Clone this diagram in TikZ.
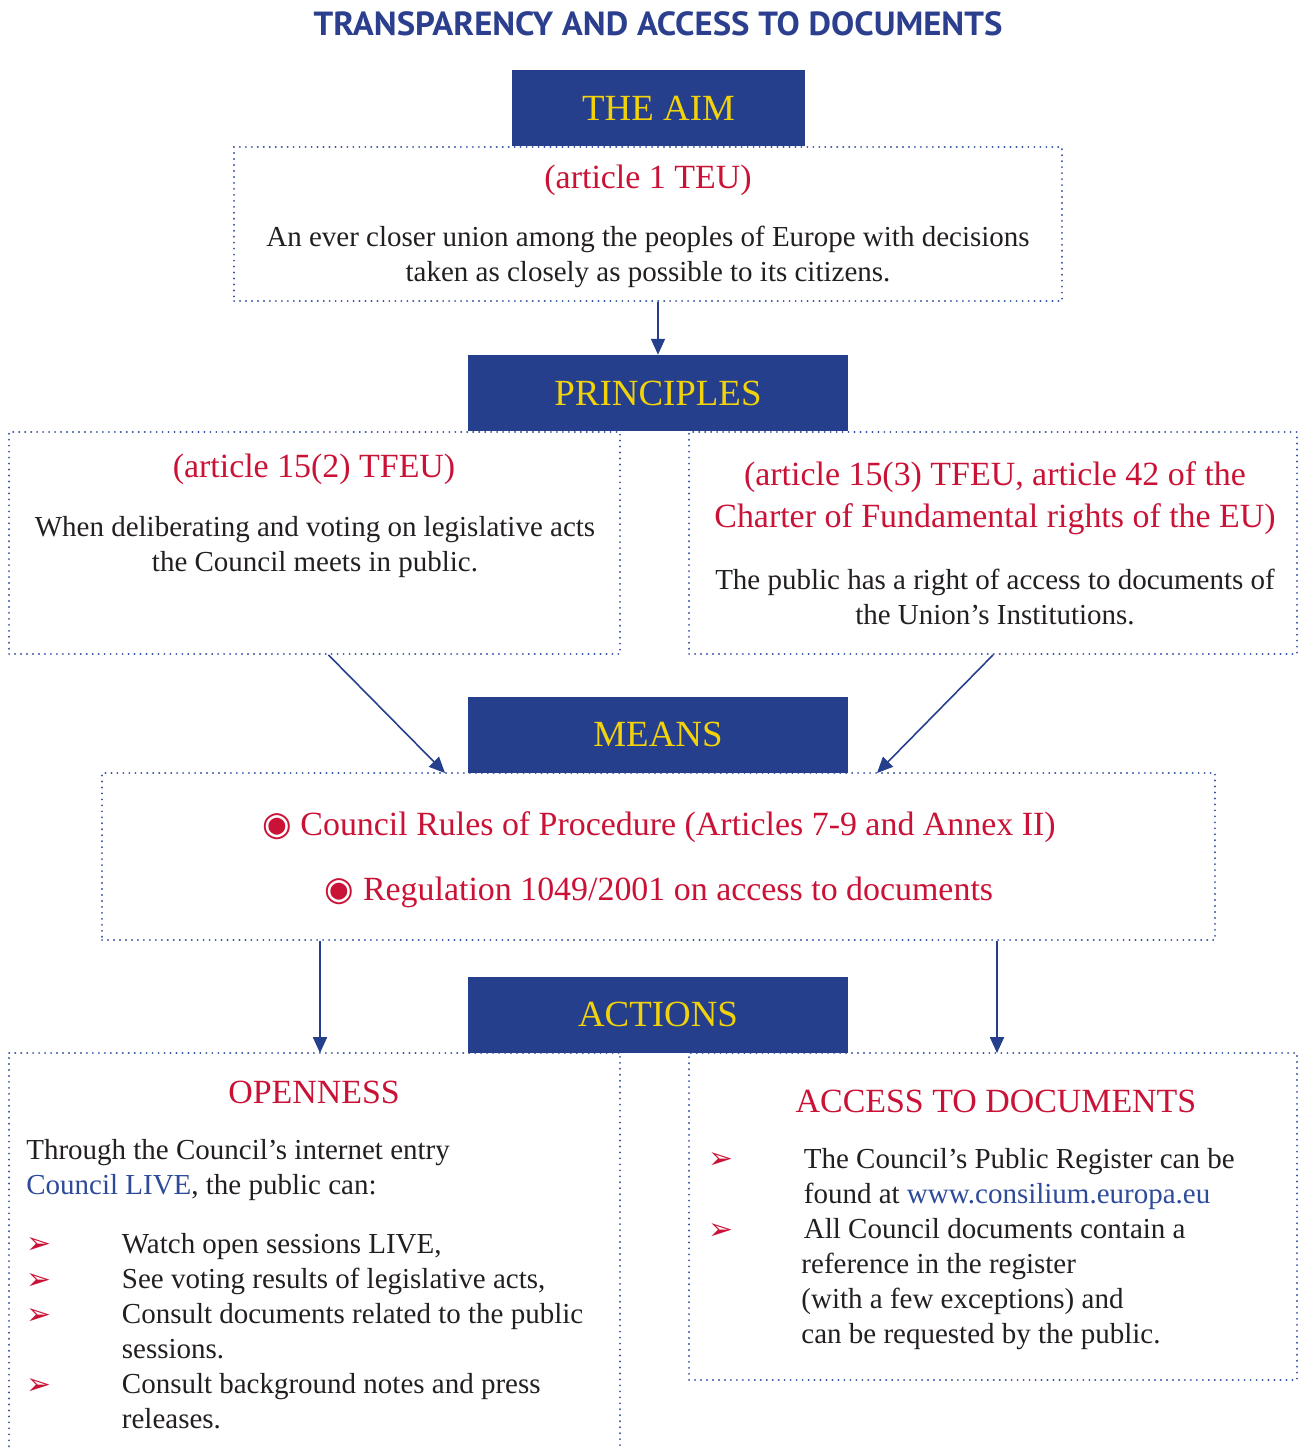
\documentclass[tikz,border=0pt]{standalone}
\usepackage{fontspec}
\setmainfont{Liberation Serif}
\newfontfamily\titlefont{PT Sans}
\newfontfamily\symfont{DejaVu Sans}
\usepackage{graphicx}
\usepackage{tikz}
\usetikzlibrary{arrows.meta,fit,calc}
\usepackage{xcolor}
\definecolor{titleBlue}{HTML}{2B3F8E}
\definecolor{euBlue}{HTML}{253F8C}
\definecolor{euYellow}{HTML}{F2D20A}
\definecolor{euRed}{HTML}{CA1236}
\definecolor{linkBlue}{HTML}{2D4A9B}
\definecolor{dotBlue}{HTML}{3B55A5}
\definecolor{bodyText}{HTML}{231F20}
\newcommand{\arrowbul}{\makebox[54.4pt][l]{\raisebox{-0.5pt}{\textcolor{euRed}{\symfont\fontsize{17}{17}\selectfont ➢}}}}

\begin{document}
\begin{tikzpicture}[x=0.02cm, y=-0.02cm,
    headbox/.style={fill=euBlue, inner sep=0pt, minimum height=1.52cm, text=euYellow, font=\fontsize{21}{25}\selectfont},
    dotbox/.style={draw=dotBlue, line width=1.1pt, dash pattern=on 0.1pt off 3.3pt, line cap=round, inner sep=0pt},
    ref/.style={text=euRed, font=\fontsize{19.3}{23.8}\selectfont, align=center, inner sep=0pt},
    body/.style={text=bodyText, font=\fontsize{16.5}{20}\selectfont, inner sep=0pt},
    link/.style={draw=euBlue, line width=0.9pt, -{Triangle[length=9pt,width=8pt]}}]
    \useasboundingbox (0,0) rectangle (1298,1450);

    \coordinate (AimH) at (658.5, 108);
    \coordinate (AimTL) at (234, 147);
    \coordinate (AimBR) at (1062, 301);

    \coordinate (PrinH) at (658, 393);
    \coordinate (LeftTL) at (9, 432);
    \coordinate (LeftBR) at (620, 654);
    \coordinate (RightTL) at (689, 432);
    \coordinate (RightBR) at (1297, 654);

    \coordinate (MeansH) at (658, 734.5);
    \coordinate (MeansTL) at (102, 773);
    \coordinate (MeansBR) at (1215, 940);
    \coordinate (MeansL) at (445, 773);
    \coordinate (MeansR) at (877, 773);

    \coordinate (ActH) at (658, 1014.5);
    \coordinate (OpenTL) at (9, 1053);
    \coordinate (OpenBR) at (620, 1452);
    \coordinate (AccTL) at (689, 1053);
    \coordinate (AccBR) at (1297, 1380);
    \coordinate (OpenIn) at (320, 1053);
    \coordinate (AccIn) at (997, 1053);

    \node [text=titleBlue] (title) at (658, 24)
    {\resizebox{392pt}{13.6pt}{\titlefont\bfseries TRANSPARENCY AND ACCESS TO DOCUMENTS}};

    \node [dotbox, fit=(AimTL) (AimBR)] (aim) {};
    \node [headbox, minimum width=5.86cm] (aimhead) at (AimH) {THE AIM};
    \node [ref] (aimref) at (648, 180) {(article 1 TEU)};
    \node [body, align=center] (aimtext) at (648, 257)
    {An ever closer union among the peoples of Europe with decisions\\taken as closely as possible to its citizens.};

    \node [dotbox, fit=(LeftTL) (LeftBR)] (leftp) {};
    \node [dotbox, fit=(RightTL) (RightBR)] (rightp) {};
    \node [headbox, minimum width=7.6cm] (prinhead) at (PrinH) {PRINCIPLES};
    \node [ref] (leftref) at (314, 469) {(article 15(2) TFEU)};
    \node [body, align=center] (lefttext) at (315, 547)
    {When deliberating and voting on legislative acts\\the Council meets in public.};
    \node [ref] (rightref) at (995, 498)
    {(article 15(3) TFEU, article 42 of the\\Charter of Fundamental rights of the EU)};
    \node [body, align=center] (righttext) at (995, 597)
    {The public has a right of access to documents of\\the Union’s Institutions.};

    \node [dotbox, fit=(MeansTL) (MeansBR)] (means) {};
    \node [headbox, minimum width=7.6cm] (meanshead) at (MeansH) {MEANS};
    \node [ref] (rules) at (659, 827)
    {{\symfont ◉}\ Council Rules of Procedure (Articles 7-9 and Annex II)};
    \node [ref] (regul) at (659, 892)
    {{\symfont ◉}\ Regulation 1049/2001 on access to documents};

    \node [fit=(OpenTL) (OpenBR), inner sep=0pt] (openbox) {};
    \draw [dotbox] (openbox.south west) -- (openbox.north west) -- (openbox.north east) -- (openbox.south east);
    \node [dotbox, fit=(AccTL) (AccBR)] (accbox) {};
    \node [headbox, minimum width=7.6cm] (acthead) at (ActH) {ACTIONS};

    \node [ref] (openttl) at (314, 1092) {OPENNESS};
    \node [body, align=left, anchor=west] (openintro) at (26, 1170)
    {Through the Council’s internet entry\\{\color{linkBlue}Council LIVE}, the public can:};
    \node [body, align=left, anchor=west] (openlist) at (26, 1331)
    {\arrowbul Watch open sessions LIVE,\\
     \arrowbul See voting results of legislative acts,\\
     \arrowbul Consult documents related to the public\\
     \hspace*{54.4pt}sessions.\\
     \arrowbul Consult background notes and press\\
     \hspace*{54.4pt}releases.};

    \node [ref] (accttl) at (996, 1101) {ACCESS TO DOCUMENTS};
    \node [body, align=left, anchor=west] (acclist) at (708, 1249)
    {\arrowbul The Council’s Public Register can be\\
     \hspace*{54.4pt}found at {\color{linkBlue}www.consilium.europa.eu}\\
     \arrowbul All Council documents contain a\\
     \hspace*{53pt}reference in the register\\
     \hspace*{53pt}(with a few exceptions) and\\
     \hspace*{53pt}can be requested by the public.};

    \draw [link] (aim.south -| prinhead.north) -- (prinhead.north);
    \draw [link] ($(leftp.south)+(14,0)$) -- (MeansL);
    \draw [link] (rightp.south) -- (MeansR);
    \draw [link] (means.south -| OpenIn) -- (OpenIn);
    \draw [link] (means.south -| AccIn) -- (AccIn);
\end{tikzpicture}
\end{document}
